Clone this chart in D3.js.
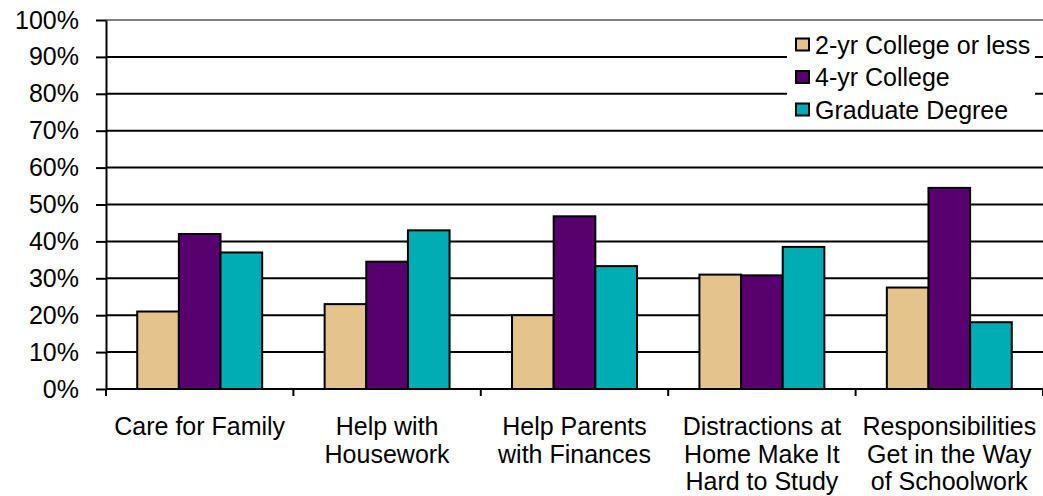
<!DOCTYPE html>
<html>
<head>
<meta charset="utf-8">
<script src="https://cdn.jsdelivr.net/npm/d3@7"></script>
<style>
  body { margin: 0; background: #fff; }
  svg { display: block; font-family: "Liberation Sans", Arial, sans-serif; }
</style>
</head>
<body>
<svg width="1043" height="496"></svg>
<script>
const categories = [
  'Care for Family',
  'Help with\nHousework',
  'Help Parents\nwith Finances',
  'Distractions at\nHome Make It\nHard to Study',
  'Responsibilities\nGet in the Way\nof Schoolwork'
]
const seriesNames = ['2-yr College or less', '4-yr College', 'Graduate Degree']
const twoYear = [0.21, 0.23, 0.20, 0.31, 0.275]
const fourYear = [0.42, 0.345, 0.468, 0.308, 0.545]
const graduate = [0.37, 0.43, 0.333, 0.385, 0.181]
const yTicks = [0, 0.1, 0.2, 0.3, 0.4, 0.5, 0.6, 0.7, 0.8, 0.9, 1]
const colors = ['#E5C38D', '#57006E', '#00ADB5']

const width = 1043
const margin = {top: 20, right: 0, bottom: 107, left: 106}
const height = 496

const series = [twoYear, fourYear, graduate]
const data = categories.map((c, i) => ({
  name: c,
  values: series.map((s, j) => ({key: seriesNames[j], value: s[i], idx: j}))
}))

const svg = d3.select('svg')

const x = d3.scaleBand()
  .domain(categories)
  .range([margin.left, width - margin.right])
  .padding(0)

const x1 = d3.scaleBand()
  .domain(seriesNames)
  .range([0, x.bandwidth()])
  .paddingInner(0)
  .paddingOuter(0.75)

const y = d3.scaleLinear()
  .domain([0, 1])
  .range([height - margin.bottom, margin.top])

// gridlines
svg.append('g')
  .attr('class', 'grid')
  .selectAll('line')
  .data(yTicks.filter(d => d > 0))
  .join('line')
    .attr('x1', margin.left)
    .attr('x2', width - margin.right)
    .attr('y1', d => y(d))
    .attr('y2', d => y(d))
    .attr('stroke', d => d === 1 ? '#808080' : '#000')
    .attr('stroke-width', 2)

// bars
svg.append('g')
  .attr('class', 'bars')
  .selectAll('g')
  .data(data)
  .join('g')
    .attr('transform', d => `translate(${x(d.name)},0)`)
  .selectAll('rect')
  .data(d => d.values)
  .join('rect')
    .attr('x', d => x1(d.key))
    .attr('y', d => y(d.value))
    .attr('width', x1.bandwidth())
    .attr('height', d => y(0) - y(d.value))
    .attr('fill', d => colors[d.idx])
    .attr('stroke', '#000')
    .attr('stroke-width', 2)

// y axis
const yAxis = g => g
  .attr('transform', `translate(${margin.left},0)`)
  .call(d3.axisLeft(y).tickValues(yTicks).tickFormat(d3.format('.0%')).tickSize(10).tickSizeOuter(0).tickPadding(17))
  .call(g => g.selectAll('line, path').attr('stroke', '#000').attr('stroke-width', 2))
  .call(g => g.selectAll('text').attr('font-size', 25).attr('fill', '#000').attr('font-family', '"Liberation Sans", Arial, sans-serif'))

svg.append('g').attr('class', 'y-axis').call(yAxis)

// x axis
const xAxisG = svg.append('g')
  .attr('class', 'x-axis')
  .attr('transform', `translate(0,${y(0)})`)

xAxisG.append('line')
  .attr('x1', margin.left)
  .attr('x2', width - margin.right)
  .attr('stroke', '#000')
  .attr('stroke-width', 2)

xAxisG.selectAll('line.tick')
  .data(categories.map(c => x(c)).concat([x.range()[1]]))
  .join('line')
    .attr('class', 'tick')
    .attr('x1', d => d)
    .attr('x2', d => d)
    .attr('y1', 0)
    .attr('y2', 7)
    .attr('stroke', '#000')
    .attr('stroke-width', 2)

xAxisG.selectAll('text')
  .data(categories)
  .join('text')
    .attr('x', d => x(d) + x.bandwidth() / 2)
    .attr('y', 46)
    .attr('text-anchor', 'middle')
    .attr('font-size', 25)
    .attr('fill', '#000')
    .each(function (d) {
      d.split('\n').forEach((line, i) => {
        d3.select(this).append('tspan')
          .attr('x', x(d) + x.bandwidth() / 2)
          .attr('dy', i === 0 ? 0 : 27.5)
          .text(line)
      })
    })

// legend
const legend = svg.append('g').attr('class', 'legend')
legend.append('rect')
  .attr('x', 787)
  .attr('y', 26)
  .attr('width', 248)
  .attr('height', 100)
  .attr('fill', '#fff')

const items = legend.selectAll('g.item')
  .data(seriesNames)
  .join('g')
    .attr('class', 'item')
    .attr('transform', (d, i) => `translate(796,${44.5 + i * 32.5})`)

items.append('rect')
  .attr('x', 0)
  .attr('y', -6)
  .attr('width', 13)
  .attr('height', 12)
  .attr('fill', (d, i) => colors[i])
  .attr('stroke', '#000')
  .attr('stroke-width', 2)

items.append('text')
  .attr('x', 19)
  .attr('y', 9)
  .attr('font-size', 25)
  .attr('fill', '#000')
  .text(d => d)
</script>
</body>
</html>
